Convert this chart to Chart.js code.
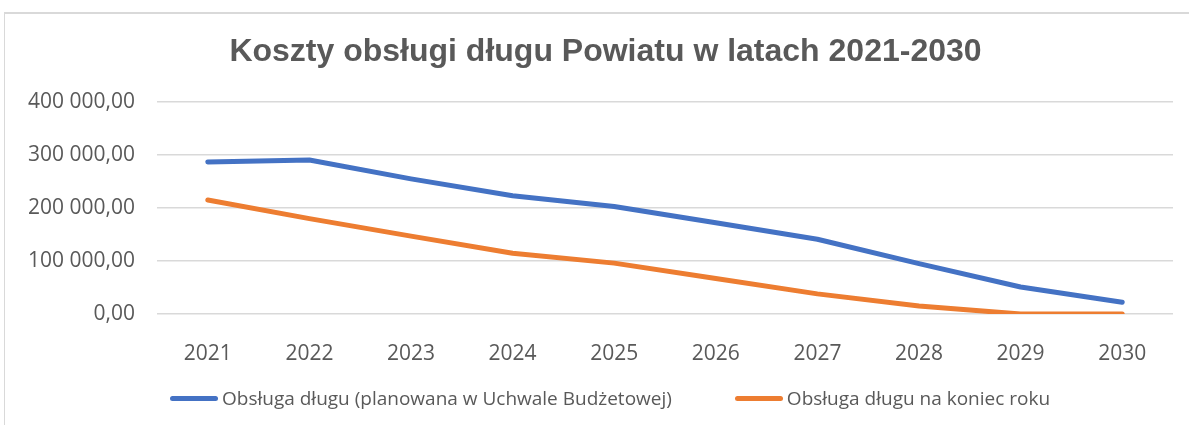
<!DOCTYPE html>
<html lang="pl">
<head>
<meta charset="utf-8">
<script src="https://cdn.jsdelivr.net/npm/chart.js@4"></script>
<style>
  html, body { margin: 0; padding: 0; background: #fff; }
  #wrap { position: relative; width: 1189px; height: 425px; overflow: hidden; }
  #frame {
    position: absolute; left: 4px; top: 12px; width: 1220px; height: 440px;
    border-top: 2px solid #d9d9d9; border-left: 1px solid #d9d9d9;
  }
  #chart { position: absolute; left: 0; top: 0; }
  #title {
    position: absolute; left: 38px; width: 1135px; top: 31px; line-height: 38px;
    text-align: center; white-space: nowrap;
    font-family: 'Liberation Sans', Arial, sans-serif; font-size: 32px; font-weight: bold; color: #595959;
  }
  #legend {
    position: absolute; left: 170px; top: 385px; display: flex; align-items: center;
    font-family: 'Open Sans', sans-serif; font-size: 19px; color: #595959;
  }
  .item { display: flex; align-items: center; white-space: nowrap; }
  .item + .item { margin-left: 63px; }
  .swatch { width: 48px; height: 5px; border-radius: 3px; margin-right: 4px; }
</style>
</head>
<body>
<div id="wrap">
  <div id="frame"></div>
  <canvas id="chart" width="1189" height="425"></canvas>
  <div id="title">Koszty obsługi długu Powiatu w latach 2021-2030</div>
  <div id="legend"></div>
</div>
<script>
// ── data
const YEARS = ['2021', '2022', '2023', '2024', '2025', '2026', '2027', '2028', '2029', '2030'];
const PLANNED = [287000, 290500, 255000, 223000, 203000, 172000, 141000, 95000, 51000, 22000];
const YEAR_END = [215000, 180000, 147000, 114500, 96000, 67000, 38000, 15000, 0, 0];
const SERIES_LABELS = ['Obsługa długu (planowana w Uchwale Budżetowej)', 'Obsługa długu na koniec roku'];
const SERIES_COLORS = ['#4472c4', '#ed7d31'];
const Y_TICKS = [0, 100000, 200000, 300000, 400000];

const TEXT = '#595959';

// 400000 -> "400 000,00"
function plNumber(v) {
  return String(v).replace(/\B(?=(\d{3})+(?!\d))/g, ' ') + ',00';
}

function lineSet(label, data, color) {
  return {
    label, data,
    borderColor: color,
    backgroundColor: color,
    borderWidth: 5,
    borderCapStyle: 'round',
    borderJoinStyle: 'round',
    pointRadius: 0,
    tension: 0,
    fill: false
  };
}

const chart = new Chart(document.getElementById('chart'), {
  type: 'line',
  data: {
    labels: YEARS,
    datasets: [
      lineSet(SERIES_LABELS[0], PLANNED, SERIES_COLORS[0]),
      lineSet(SERIES_LABELS[1], YEAR_END, SERIES_COLORS[1])
    ]
  },
  options: {
    responsive: false,
    animation: false,
    // title sits in html above, so the top padding reserves its room
    layout: { padding: { top: 102, left: 0, right: 16, bottom: 60 } },
    plugins: {
      legend: { display: false },
      tooltip: { enabled: false },
      title: { display: false }
    },
    scales: {
      x: {
        offset: true,
        grid: { display: false },
        border: { display: false },
        ticks: { color: TEXT, padding: 19, font: { family: "'Open Sans', sans-serif", size: 21 } },
        afterFit: s => { s.height = 51; }
      },
      y: {
        min: 0, max: 400000,
        afterBuildTicks: s => { s.ticks = Y_TICKS.map(v => ({ value: v })); },
        grid: { color: '#d9d9d9', lineWidth: 1.5, drawTicks: false },
        border: { display: false },
        ticks: { color: TEXT, padding: 22, font: { family: "'Open Sans', sans-serif", size: 21 }, callback: v => plNumber(v) },
        afterFit: s => { s.width = 157; }
      }
    }
  }
});

// ── legend as html, built from the same series
document.getElementById('legend').innerHTML = SERIES_LABELS.map((l, i) =>
  `<div class="item"><div class="swatch" style="background:${SERIES_COLORS[i]}"></div><span>${l}</span></div>`
).join('');
</script>
</body>
</html>
